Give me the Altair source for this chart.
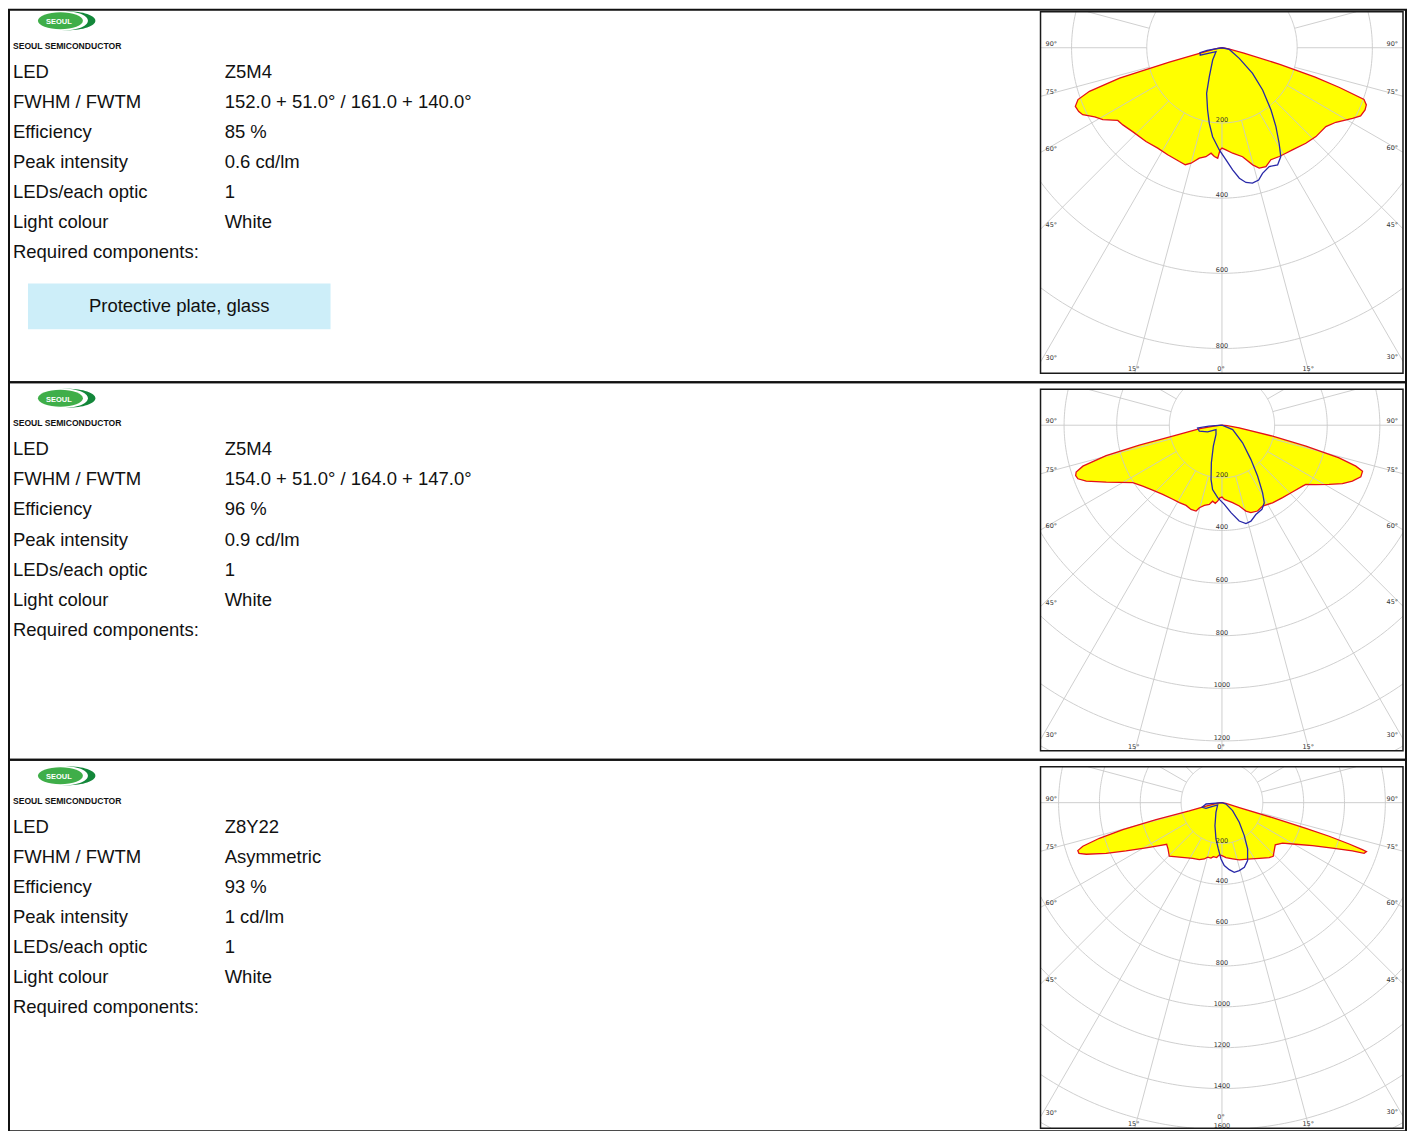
import math
import numpy as np
import pandas as pd
import altair as alt

# ---------------- data ----------------
spec_labels = ["LED", "FWHM / FWTM", "Efficiency", "Peak intensity",
               "LEDs/each optic", "Light colour", "Required components:"]
spec_values_1 = ["Z5M4", "152.0 + 51.0° / 161.0 + 140.0°", "85 %", "0.6 cd/lm", "1", "White", ""]
spec_values_2 = ["Z5M4", "154.0 + 51.0° / 164.0 + 147.0°", "96 %", "0.9 cd/lm", "1", "White", ""]
spec_values_3 = ["Z8Y22", "Asymmetric", "93 %", "1 cd/lm", "1", "White", ""]
components_1 = ["Protective plate, glass"]
components_2 = []
components_3 = []
brand_name = "SEOUL SEMICONDUCTOR"
brand_badge = "SEOUL"

ring_step = [200, 200, 200]      # cd/klm between grid rings
spoke_step = 15                  # degrees between grid spokes

# C0-C180 plane (red outline, yellow fill): gamma (deg, negative = left side), intensity (cd/klm)
red_gamma_1 = [-90, -84, -80, -77, -74.8, -73.5, -71.8, -70.2, -68.2, -66, -64.3, -61.5, -58.9, -55.1, -52.1,
               -46.8, -39, -32.6, -26.9, -20.5, -17.4, -15, -11.6, -8.4, -5.9, -4, -2.2, -1.1, 0, 2.2, 5.8,
               10.7, 14.7, 17.2, 20.3, 23.6, 27.8, 31.2, 34.6, 41.3, 46.6, 52.8, 56.8, 61.6, 63.8, 66.5, 68.4,
               70, 71.3, 72.5, 74, 76, 80, 84, 90]
red_cd_1 = [0, 8, 18, 45, 145, 284, 371, 407, 420, 417, 411, 385, 370, 338, 334,
            326, 321, 317, 319, 323, 326, 318, 300, 293, 282, 290, 294, 272, 267, 272, 282,
            295, 322, 335, 337, 325, 327, 328, 330, 338, 344, 347, 362, 395, 411, 415, 413,
            402, 330, 260, 160, 60, 18, 8, 0]
# C90-C270 plane (blue outline)
blue_gamma_1 = [-90, -80, -77.2, -71.3, -56.3, -37.1, -23.6, -18.6, -13, -9.5, -6, -1.5, 2, 5, 7.6, 10.1,
                12.7, 15.5, 17.9, 21.7, 25.4, 28.4, 30.9, 34.4, 38.2, 43.9, 50.1, 58.4, 77.2, 90]
blue_cd_1 = [0, 40, 60, 61, 19, 41, 84, 128, 170, 204, 238, 272, 298, 326, 350, 364,
             369, 365, 351, 340, 345, 329, 296, 254, 211, 156, 106, 54, 20, 0]

red_gamma_2 = [-90, -85, -81, -77.4, -76.4, -75.3, -73.6, -72.2, -71, -69.6, -67.6, -63.8, -57.2, -52.4,
               -46.9, -40.6, -33.6, -28.8, -24.1, -20.2, -16.8, -15.3, -12.4, -9.1, -7, -4.9, -3.3, -1.6,
               0, 1.8, 7.8, 12.1, 15.6, 18.3, 22.5, 26.7, 33.1, 39.9, 46.5, 52.9, 54.8, 57.7, 61.1, 64.1,
               66.8, 69.6, 71.9, 73, 74.4, 76, 77.8, 81.3, 85, 90]
red_cd_2 = [0, 25, 85, 192, 323, 455, 551, 582, 588, 584, 558, 490, 403, 380,
            361, 346, 338, 336, 334, 341, 341, 325, 312, 305, 291, 298, 289, 276,
            273, 282, 297, 314, 339, 350, 353, 344, 352, 359, 369, 384, 390, 422, 465, 509,
            539, 563, 562, 532, 462, 329, 197, 66, 20, 0]
blue_gamma_2 = [-90, -86, -83.7, -75.2, -65.1, -54.2, -32.7, -22.4, -15.8, -11.4, -8.3, -3.4, 1.7, 5.9,
                10.2, 13.7, 16.8, 20.8, 25.4, 28.6, 31, 35, 40.2, 49.5, 67.9, 90]
blue_cd_2 = [0, 50, 93, 89, 60, 28, 42, 86, 148, 210, 247, 276, 301, 334,
             370, 385, 381, 363, 354, 336, 300, 236, 170, 103, 44, 0]

red_gamma_3 = [-90, -84, -78, -75.7, -75.6, -74.8, -73.8, -72.6, -71.6, -70.5, -69.2, -66.4, -63.3, -59.2,
               -55.5, -53, -49.4, -44.5, -38, -27.8, -21.7, -17.4, -14.7, -11.2, -9.1, -5.5, -2.9, 0,
               4.2, 10.7, 16.8, 24.4, 33.8, 40.7, 43.7, 47.5, 51.6, 56.2, 60.6, 64.6, 67.6, 69.7, 70.4,
               71.3, 71.5, 72, 72.6, 73, 73.5, 73.9, 80, 90]
red_cd_3 = [0, 20, 80, 165, 333, 503, 625, 714, 744, 743, 711, 619, 526, 433,
            372, 339, 348, 368, 339, 308, 300, 289, 276, 277, 268, 270, 256, 259,
            270, 280, 293, 304, 328, 355, 363, 347, 333, 357, 415, 491, 585, 681, 739,
            747, 725, 655, 550, 430, 258, 88, 20, 0]
blue_gamma_3 = [-90, -85.2, -76.9, -70.5, -68.6, -61.7, -31.8, -16.9, -9.4, -4.5, -1, 2.1, 6.2, 10,
                14.3, 19.1, 23.9, 29, 34.1, 41.4, 53.1, 71.6, 90]
blue_cd_3 = [0, 78, 100, 83, 49, 24, 56, 118, 180, 227, 276, 308, 330, 346,
             343, 335, 310, 259, 195, 128, 65, 21, 0]

# ---------------- layout (pixels inside each row cell) ----------------
VIEW_W = 1399
ROW_H = [373, 378, 372]
ROW_OFF = [-5, 0, 0]
PX_PER_CD = [0.3765, 0.2635, 0.2045]
TXT_FONT = "Liberation Sans"
GRID_FONT = "DejaVu Sans"


def clip_runs(xs, ys, box):
    x0, x1, y0, y1 = box
    runs, cur = [], []
    for i in range(len(xs) - 1):
        ax, ay, bx, by = xs[i], ys[i], xs[i + 1], ys[i + 1]
        dx, dy = bx - ax, by - ay
        t0, t1, ok = 0.0, 1.0, True
        for p, q in ((-dx, ax - x0), (dx, x1 - ax), (-dy, ay - y0), (dy, y1 - ay)):
            if abs(p) < 1e-12:
                if q < 0:
                    ok = False
                    break
            else:
                t = q / p
                if p < 0:
                    if t > t1:
                        ok = False
                        break
                    t0 = max(t0, t)
                else:
                    if t < t0:
                        ok = False
                        break
                    t1 = min(t1, t)
        if not ok or t1 <= t0:
            if cur:
                runs.append(cur)
                cur = []
            continue
        p0 = (ax + t0 * dx, ay + t0 * dy)
        p1 = (ax + t1 * dx, ay + t1 * dy)
        if not cur or t0 > 1e-9:
            if cur:
                runs.append(cur)
            cur = [p0]
        cur.append(p1)
        if t1 < 1 - 1e-9:
            runs.append(cur)
            cur = []
    if cur:
        runs.append(cur)
    return [r for r in runs if len(r) >= 2]


def ellipse_path(ry):
    return f"M -1 0 A 1 {ry} 0 1 0 1 0 A 1 {ry} 0 1 0 -1 0 Z"


def text_layers(i, values, comps):
    off = ROW_OFF[i]
    ty = alt.Scale(domain=[0, 6], range=[67 + off, 248 + off], nice=False, zero=False)
    df = pd.DataFrame({"idx": list(range(len(spec_labels))), "label": spec_labels, "value": values})
    base = alt.Chart(df)
    out = [
        base.mark_text(align="left", baseline="middle", font=TXT_FONT, fontSize=18.5, color="#111")
        .encode(x=alt.value(4), y=alt.Y("idx:Q", scale=ty, axis=None), text="label:N"),
        base.mark_text(align="left", baseline="middle", font=TXT_FONT, fontSize=18.5, color="#111")
        .encode(x=alt.value(216), y=alt.Y("idx:Q", scale=ty, axis=None), text="value:N"),
    ]
    if comps:
        cdf = pd.DataFrame({"name": comps,
                            "c": [7.79 + 1.8 * j for j in range(len(comps))]})
        cdf["y0"] = cdf["c"] - 0.76
        cdf["y1"] = cdf["c"] + 0.76
        cb = alt.Chart(cdf)
        out.append(cb.mark_rect(color="#cdeef9").encode(
            x=alt.value(19), x2=alt.value(322),
            y=alt.Y("y0:Q", scale=ty, axis=None), y2="y1:Q"))
        out.append(cb.mark_text(align="center", baseline="middle", font=TXT_FONT, fontSize=18.5,
                                color="#111").encode(
            x=alt.value(170.5), y=alt.Y("c:Q", scale=ty, axis=None), text="name:N"))
    # brand logo
    one = alt.Chart(pd.DataFrame({"n": [0]}))
    ly = 16 + off
    out.append(one.mark_point(shape=ellipse_path(0.34), size=56 ** 2, filled=True, color="#13873a",
                              opacity=1).encode(x=alt.value(58.5), y=alt.value(ly)))
    out.append(one.mark_point(shape=ellipse_path(0.39), size=50 ** 2, filled=True, color="#ffffff",
                              opacity=1).encode(x=alt.value(54), y=alt.value(ly)))
    out.append(one.mark_point(shape=ellipse_path(0.38), size=45 ** 2, filled=True, color="#3fae49",
                              opacity=1).encode(x=alt.value(51.5), y=alt.value(ly)))
    out.append(one.mark_text(text=brand_badge, font=TXT_FONT, fontSize=7.5, fontWeight="bold",
                             color="#ffffff", align="center", baseline="middle")
               .encode(x=alt.value(50), y=alt.value(ly + 1.5)))
    out.append(one.mark_text(text=brand_name, font=TXT_FONT,
                             fontSize=8.6, fontWeight="bold", color="#111", align="left",
                             baseline="middle").encode(x=alt.value(4), y=alt.value(41 + off)))
    return out


def polar_layers(i, red_g, red_c, blue_g, blue_c):
    off = ROW_OFF[i]
    k = PX_PER_CD[i]
    step = ring_step[i]
    oxv, oyv = 1214.7, 43 + off
    fl, fr = 1033.0, 1396.0
    ft, fb = 7.0 + off, 369.0 + off
    xL, xR = (fl - oxv) / k, (fr - oxv) / k
    vT, vB = (ft - oyv) / k, (fb - oyv) / k
    box = (xL, xR, vT, vB)
    xs = alt.Scale(domain=[xL, xR], range=[fl, fr], nice=False, zero=False)
    ys = alt.Scale(domain=[vT, vB], range=[ft, fb], nice=False, zero=False)

    def X(f):
        return alt.X(f, type="quantitative", scale=xs, axis=None)

    def Y(f):
        return alt.Y(f, type="quantitative", scale=ys, axis=None)

    # grid rings and spokes, clipped to the diagram frame
    far = max(math.hypot(a, b) for a in box[:2] for b in box[2:])
    rows, seg = [], 0
    n = 1
    phi = np.radians(np.arange(0, 361, 1.0))
    while step * n <= far + 1:
        R = step * n
        for run in clip_runs(R * np.sin(phi), R * np.cos(phi), box):
            for j, (x, y) in enumerate(run):
                rows.append((x, y, seg, j))
            seg += 1
        n += 1
    for a in range(0, 360, spoke_step):
        t = math.radians(a)
        sx = [step * math.sin(t), (far + step) * math.sin(t)]
        sy = [step * math.cos(t), (far + step) * math.cos(t)]
        for run in clip_runs(sx, sy, box):
            for j, (x, y) in enumerate(run):
                rows.append((x, y, seg, j))
            seg += 1
    grid = pd.DataFrame(rows, columns=["px", "py", "seg", "o"])

    # ring labels
    ring_lab = []
    n = 1
    while oyv + step * n * k <= fb + 3:
        ring_lab.append((0.0, step * n, str(step * n)))
        n += 1
    ring_df = pd.DataFrame(ring_lab, columns=["px", "py", "t"])
    last_ring_px = oyv + ring_lab[-1][1] * k
    zero_dy = -8 if last_ring_px > fb - 6 else -1

    # angle labels at the frame edge
    left_l, right_l, bot_l = [], [], []
    for a in range(15, 91, 15):
        t = math.radians(a)
        for side in (-1, 1):
            edge = xL if side < 0 else xR
            t_side = edge / (side * math.sin(t))
            t_bot = vB / math.cos(t) if math.cos(t) > 1e-9 else float("inf")
            if t_side < t_bot:
                (left_l if side < 0 else right_l).append((edge, t_side * math.cos(t), f"{a}°"))
            else:
                bot_l.append((t_bot * side * math.sin(t), vB, f"{a}°"))
    ldf = pd.DataFrame(left_l, columns=["px", "py", "t"])
    rdf = pd.DataFrame(right_l, columns=["px", "py", "t"])
    bdf = pd.DataFrame(bot_l, columns=["px", "py", "t"])
    zdf = pd.DataFrame({"px": [0.0], "py": [vB], "t": ["0°"]})

    def curve(g, c):
        g = np.radians(np.array(g, dtype=float))
        c = np.array(c, dtype=float)
        return pd.DataFrame({"px": c * np.sin(g), "py": c * np.cos(g), "o": np.arange(len(c))})

    red = curve(red_g, red_c)
    blue = curve(blue_g, blue_c)
    frame = pd.DataFrame({"x0": [xL], "x1": [xR], "y0": [vT], "y1": [vB]})

    out = []
    out.append(alt.Chart(red).mark_line(fill="#ffff00", fillOpacity=1, strokeOpacity=0, strokeWidth=0)
               .encode(x=X("px"), y=Y("py"), order="o:Q"))
    out.append(alt.Chart(grid).mark_line(color="#c9c9c9", strokeWidth=0.9)
               .encode(x=X("px"), y=Y("py"), detail="seg:N", order="o:Q"))
    out.append(alt.Chart(red).mark_line(color="#e3101a", strokeWidth=1.3)
               .encode(x=X("px"), y=Y("py"), order="o:Q"))
    out.append(alt.Chart(blue).mark_line(color="#2828a8", strokeWidth=1.3)
               .encode(x=X("px"), y=Y("py"), order="o:Q"))
    lab = dict(font=GRID_FONT, fontSize=6.5, color="#333", baseline="bottom")
    out.append(alt.Chart(ring_df).mark_text(align="center", **lab)
               .encode(x=X("px"), y=Y("py"), text="t:N"))
    out.append(alt.Chart(ldf).mark_text(align="left", dx=5, dy=-1, **lab)
               .encode(x=X("px"), y=Y("py"), text="t:N"))
    out.append(alt.Chart(rdf).mark_text(align="right", dx=-5, dy=-1, **lab)
               .encode(x=X("px"), y=Y("py"), text="t:N"))
    out.append(alt.Chart(bdf).mark_text(align="center", dx=-1, dy=-1, **lab)
               .encode(x=X("px"), y=Y("py"), text="t:N"))
    out.append(alt.Chart(zdf).mark_text(align="center", dx=-1, dy=zero_dy, **lab)
               .encode(x=X("px"), y=Y("py"), text="t:N"))
    out.append(alt.Chart(frame).mark_rect(filled=False, color="#1a1a1a", strokeWidth=1.5)
               .encode(x=X("x0"), x2="x1", y=Y("y0"), y2="y1"))
    return out


rows_in = [
    (spec_values_1, components_1, red_gamma_1, red_cd_1, blue_gamma_1, blue_cd_1),
    (spec_values_2, components_2, red_gamma_2, red_cd_2, blue_gamma_2, blue_cd_2),
    (spec_values_3, components_3, red_gamma_3, red_cd_3, blue_gamma_3, blue_cd_3),
]

row_charts = []
for i, (vals, comps, rg, rc, bg, bc) in enumerate(rows_in):
    layers = text_layers(i, vals, comps) + polar_layers(i, rg, rc, bg, bc)
    row_charts.append(
        alt.layer(*layers)
        .resolve_scale(x="independent", y="independent")
        .properties(width=VIEW_W, height=ROW_H[i])
    )

chart = (
    alt.vconcat(*row_charts, spacing=0, bounds="flush")
    .properties(padding=0, background="#ffffff")
    .configure_view(stroke="#111111", strokeWidth=2)
)

chart.save("out.html", embed_options={"renderer": "svg", "actions": False})
